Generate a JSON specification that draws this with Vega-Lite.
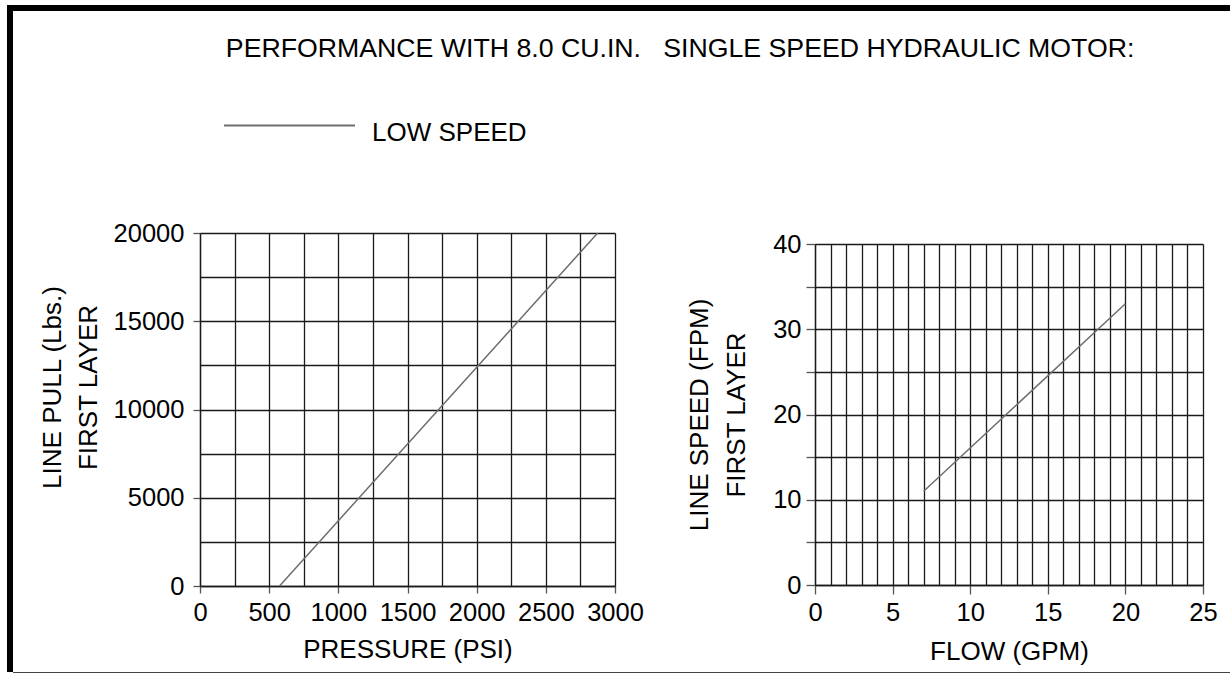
{
  "$schema": "https://vega.github.io/schema/vega-lite/v6.json",
  "background": "white",
  "padding": {"left": 7, "top": 5, "right": 0, "bottom": 0},
  "config": {
    "font": "Liberation Sans",
    "view": {"stroke": null},
    "axis": {
      "labelFont": "Liberation Sans",
      "titleFont": "Liberation Sans",
      "labelFontSize": 25.5,
      "titleFontSize": 26,
      "titleFontWeight": "normal",
      "labelColor": "black",
      "titleColor": "black",
      "gridColor": "#1a1a1a",
      "gridWidth": 1.3,
      "gridOpacity": 1,
      "domainColor": "#1a1a1a",
      "domainWidth": 1.3,
      "tickColor": "#555555",
      "tickWidth": 1.3,
      "labelFlush": false,
      "labelOverlap": false,
      "format": "d"
    }
  },
  "spacing": 0,
  "hconcat": [
    {"width": 6, "height": 667, "data": {"values": []}, "mark": "point", "view": {"fill": "black", "stroke": null}},
    {
      "spacing": 0,
      "vconcat": [
        {"width": 1217, "height": 6, "data": {"values": []}, "mark": "point", "view": {"fill": "black", "stroke": null}},
        {"width": 10, "height": 25, "data": {"values": []}, "mark": "point", "view": {"fill": null, "stroke": null}},
        {
          "title": {
            "text": "PERFORMANCE WITH 8.0 CU.IN.\u00a0\u00a0 SINGLE SPEED HYDRAULIC MOTOR:",
            "font": "Liberation Sans",
            "fontSize": 26.7,
            "fontWeight": "normal",
            "color": "black",
            "anchor": "middle",
            "offset": 157,
            "dx": 65
          },
          "spacing": 0,
          "hconcat": [
            {"width": 26, "height": 1, "data": {"values": []}, "mark": "point", "view": {"fill": null, "stroke": null}},
            {
              "spacing": 0,
              "vconcat": [
                {"width": 1, "height": 1, "data": {"values": []}, "mark": "point", "view": {"fill": null, "stroke": null}},
                {
                  "width": 415,
                  "height": 353,
                  "data": {"values": [
                    {"pressure": 575, "pull": 0, "series": "LOW SPEED"},
                    {"pressure": 2875, "pull": 20000, "series": "LOW SPEED"}
                  ]},
                  "mark": {"type": "line", "strokeWidth": 1.5},
                  "encoding": {
                    "x": {
                      "field": "pressure", "type": "quantitative",
                      "scale": {"domain": [0, 3000], "nice": false, "zero": false},
                      "axis": {
                        "title": "PRESSURE (PSI)",
                        "values": [0, 250, 500, 750, 1000, 1250, 1500, 1750, 2000, 2250, 2500, 2750, 3000],
                        "labelExpr": "datum.value % 500 === 0 ? datum.label : ''",
                        "tickOpacity": {"condition": {"test": "datum.value % 500 === 0", "value": 1}, "value": 0},
                        "tickSize": 7,
                        "labelPadding": 7,
                        "titlePadding": 11
                      }
                    },
                    "y": {
                      "field": "pull", "type": "quantitative",
                      "scale": {"domain": [0, 20000], "nice": false},
                      "axis": {
                        "title": ["LINE PULL (Lbs.)", "FIRST LAYER"],
                        "titleLineHeight": 36,
                        "titlePadding": 12,
                        "titleY": 154,
                        "values": [0, 2500, 5000, 7500, 10000, 12500, 15000, 17500, 20000],
                        "labelExpr": "datum.value % 5000 === 0 ? datum.label : ''",
                        "tickOpacity": {"condition": {"test": "datum.value % 5000 === 0", "value": 1}, "value": 0},
                        "tickSize": 7,
                        "labelPadding": 9
                      }
                    },
                    "color": {
                      "field": "series", "type": "nominal",
                      "scale": {"range": ["#6e6e6e"]},
                      "legend": {
                        "orient": "none",
                        "legendX": 216,
                        "legendY": 48,
                        "title": null,
                        "symbolType": "M-1,0.092H1",
                        "symbolSize": 17161,
                        "symbolStrokeWidth": 2,
                        "labelFont": "Liberation Sans",
                        "labelFontSize": 26,
                        "labelColor": "black",
                        "labelOffset": 16,
                        "labelBaseline": "top",
                        "padding": 0
                      }
                    }
                  }
                }
              ]
            },
            {"width": 42, "height": 1, "data": {"values": []}, "mark": "point", "view": {"fill": null, "stroke": null}},
            {
              "spacing": 0,
              "vconcat": [
                {"width": 1, "height": 12, "data": {"values": []}, "mark": "point", "view": {"fill": null, "stroke": null}},
                {
                  "width": 388,
                  "height": 341,
                  "data": {"values": [
                    {"flow": 7, "speed": 11},
                    {"flow": 20, "speed": 33}
                  ]},
                  "mark": {"type": "line", "strokeWidth": 1.5, "color": "#6e6e6e"},
                  "encoding": {
                    "x": {
                      "field": "flow", "type": "quantitative",
                      "scale": {"domain": [0, 25], "nice": false, "zero": false},
                      "axis": {
                        "title": "FLOW (GPM)",
                        "values": [0, 1, 2, 3, 4, 5, 6, 7, 8, 9, 10, 11, 12, 13, 14, 15, 16, 17, 18, 19, 20, 21, 22, 23, 24, 25],
                        "labelExpr": "datum.value % 5 === 0 ? datum.label : ''",
                        "tickOpacity": {"condition": {"test": "datum.value % 5 === 0", "value": 1}, "value": 0},
                        "tickSize": 9,
                        "labelPadding": 6,
                        "titlePadding": 13
                      }
                    },
                    "y": {
                      "field": "speed", "type": "quantitative",
                      "scale": {"domain": [0, 40], "nice": false},
                      "axis": {
                        "title": ["LINE SPEED (FPM)", "FIRST LAYER"],
                        "titleLineHeight": 37,
                        "titlePadding": 23,
                        "values": [0, 5, 10, 15, 20, 25, 30, 35, 40],
                        "labelExpr": "datum.value % 10 === 0 ? datum.label : ''",
                        "tickSize": 9,
                        "labelPadding": 5
                      }
                    }
                  }
                }
              ]
            }
          ]
        },
        {"width": 10, "height": 7, "data": {"values": []}, "mark": "point", "view": {"fill": null, "stroke": null}},
        {"width": 1217, "height": 1, "data": {"values": []}, "mark": "point", "view": {"fill": "#444444", "stroke": null}}
      ]
    }
  ]
}
